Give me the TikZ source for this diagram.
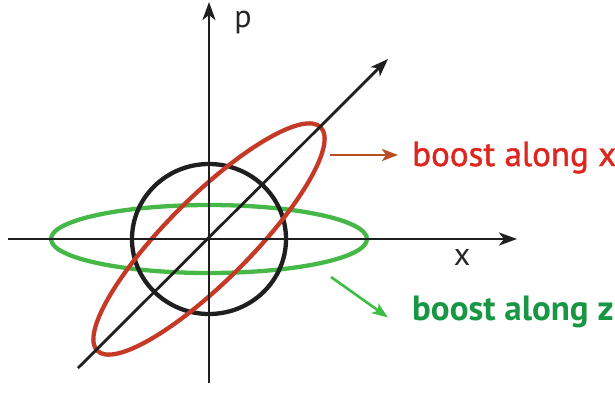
\documentclass[tikz,border=0pt]{standalone}
\usepackage{fontspec}
\setmainfont{PT Sans}
\newfontfamily\semiboost[FakeBold=1.3]{PT Sans}
\usetikzlibrary{arrows.meta,positioning}
\definecolor{ringred}{RGB}{196,58,38}
\definecolor{ringgreen}{RGB}{70,184,72}
\definecolor{arrowred}{RGB}{184,78,38}
\definecolor{arrowgreen}{RGB}{60,190,70}
\definecolor{textred}{RGB}{222,38,32}
\definecolor{textgreen}{RGB}{24,150,68}
\tikzset{
axis/.style={-{Stealth[length=18pt,width=13pt,inset=5pt]},line width=2.8pt,draw=black!88},
ring/.style={line width=4.3pt},
boostarrow/.style={-{Stealth[length=16pt,width=12pt,inset=4pt]},line width=2.6pt},
axislabel/.style={font=\fontsize{32}{32}\selectfont,text=black!85,inner sep=0pt,anchor=base},
boostlabel/.style={font=\fontsize{35}{35}\selectfont,inner sep=0pt,anchor=base west}
}
\begin{document}
\begin{tikzpicture}[x=1pt,y=-1pt]
\useasboundingbox (0,0) rectangle (615,392);
\coordinate (o) at (209,239);
\coordinate (xl) at (8,239);
\coordinate (xr) at (517,239);
\coordinate (pd) at (209,383);
\coordinate (pu) at (209,2);
\coordinate (dl) at (78,368);
\coordinate (du) at (388,59);

% phase space ellipses
\draw[ring,draw=ringgreen] (o) ellipse [x radius=158,y radius=34];
\draw[ring,draw=black!88] (o) ellipse [x radius=77,y radius=75];
\draw[ring,draw=ringred,rotate around={45:(o)}] (o) ellipse [x radius=158,y radius=42];

% axes
\draw[axis] (xl) -- (xr);
\draw[axis] (pd) -- (pu);
\draw[axis] (dl) -- (du);
\node[axislabel] (plab) at (243,27) {p};
\node[axislabel] (xlab) at (462,265) {x};

% labels
\node[boostlabel,text=textred,font=\fontsize{35}{35}\selectfont\semiboost] (bx) at (412,166) {boost along x};
\node[boostlabel,text=textgreen,font=\fontsize{35}{35}\selectfont\bfseries] (bz) at (412,320) {boost along z};
\coordinate (rs) at (330,155);
\coordinate (gs) at (331,277);
\draw[boostarrow,draw=arrowred,fill=arrowred] (rs) -- ([xshift=-14pt]bx.west |- rs);
\draw[boostarrow,draw=arrowgreen,fill=arrowgreen] (gs) -- ([xshift=-24pt,yshift=-6pt]bz.west);
\end{tikzpicture}
\end{document}
